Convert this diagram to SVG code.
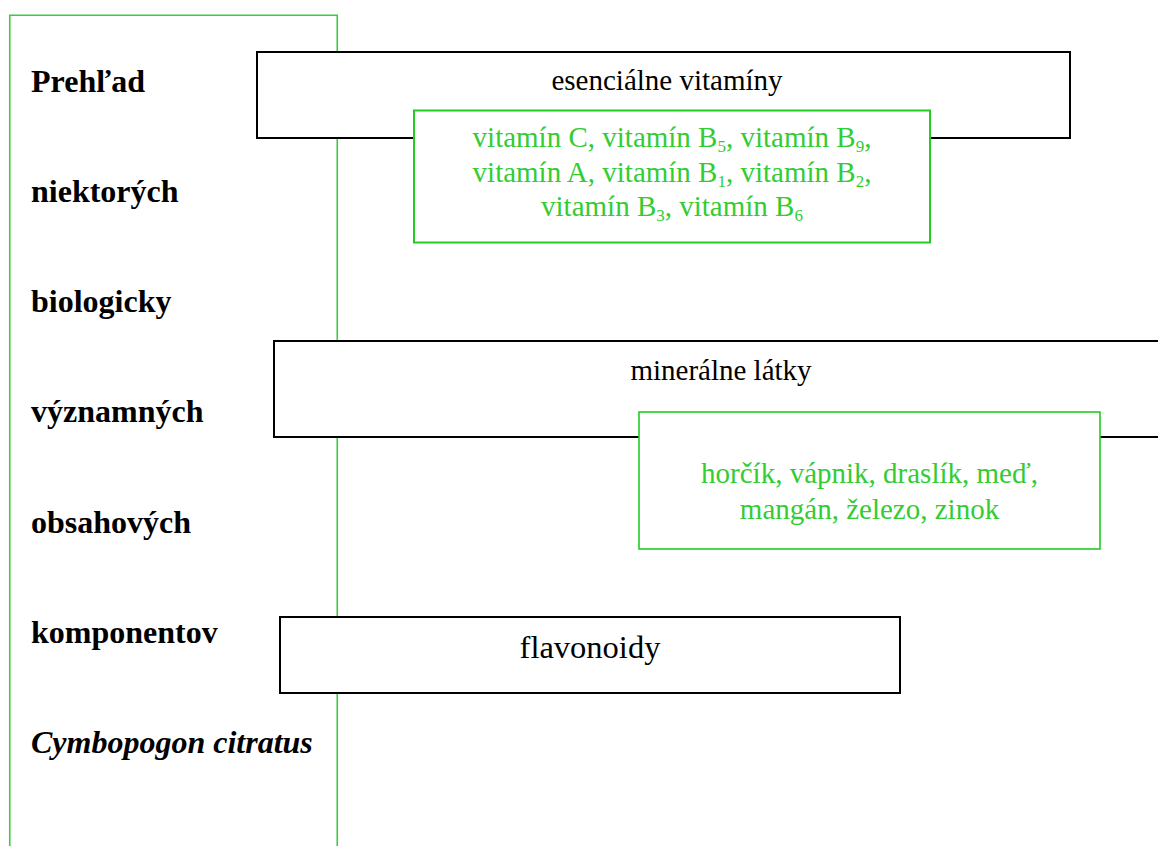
<svg xmlns="http://www.w3.org/2000/svg" width="1158" height="846" viewBox="0 0 1158 846" font-family="'Liberation Serif', 'Times New Roman', Times, serif">
  <style>
    .frame { fill: none; stroke: #3ccc3c; stroke-width: 1.6; }
    .box { fill: #ffffff; stroke: #000000; stroke-width: 2; }
    .gbox { fill: #ffffff; stroke: #22cc22; stroke-width: 2; }
    text { font-family: 'Liberation Serif', 'Times New Roman', Times, serif; }
    .title { font-size: 32px; font-weight: bold; fill: #000000; }
    .label { font-size: 29px; fill: #000000; text-anchor: middle; }
    .label-lg { font-size: 32.5px; }
    .glabel { font-size: 29px; fill: #33cc33; text-anchor: middle; }
    .sub { font-size: 17px; }
  </style>
  <rect width="1158" height="846" fill="#ffffff"/>

  <!-- title column frame (open at the bottom) -->
  <g id="title-frame">
    <path class="frame" d="M9.75,846 V15.25 H337.25 V846"/>
    <text class="title" x="31" y="92">Prehľad</text>
    <text class="title" x="31" y="202">niektorých</text>
    <text class="title" x="31" y="312">biologicky</text>
    <text class="title" x="31" y="422">významných</text>
    <text class="title" x="31" y="533">obsahových</text>
    <text class="title" x="31" y="643">komponentov</text>
    <text class="title" x="31" y="753" font-style="italic">Cymbopogon citratus</text>
  </g>

  <!-- essential vitamins -->
  <g id="vitamins">
    <rect class="box" x="257" y="52" width="813" height="86"/>
    <text class="label" x="667" y="90">esenciálne vitamíny</text>
  </g>
  <g id="vitamins-list">
    <rect class="gbox" x="414" y="110.5" width="516" height="132"/>
    <text class="glabel" x="672" y="147">vitamín C, vitamín B<tspan class="sub" dy="5">5</tspan><tspan dy="-5">, vitamín B</tspan><tspan class="sub" dy="5">9</tspan><tspan dy="-5">,</tspan></text>
    <text class="glabel" x="672" y="182">vitamín A, vitamín B<tspan class="sub" dy="5">1</tspan><tspan dy="-5">, vitamín B</tspan><tspan class="sub" dy="5">2</tspan><tspan dy="-5">,</tspan></text>
    <text class="glabel" x="672" y="216">vitamín B<tspan class="sub" dy="5">3</tspan><tspan dy="-5">, vitamín B</tspan><tspan class="sub" dy="5">6</tspan></text>
  </g>

  <!-- minerals -->
  <g id="minerals">
    <rect class="box" x="274" y="341" width="900" height="96"/>
    <text class="label" x="721" y="380">minerálne látky</text>
  </g>
  <g id="minerals-list">
    <rect class="gbox" x="639" y="412" width="461" height="137" style="stroke-width:1.6"/>
    <text class="glabel" x="869.5" y="483">horčík, vápnik, draslík, meď,</text>
    <text class="glabel" x="869.5" y="519">mangán, železo, zinok</text>
  </g>

  <!-- flavonoids -->
  <g id="flavonoids">
    <rect class="box" x="280" y="617" width="620" height="76"/>
    <text class="label label-lg" x="590" y="658">flavonoidy</text>
  </g>

  <g id="connectors"></g>
</svg>
